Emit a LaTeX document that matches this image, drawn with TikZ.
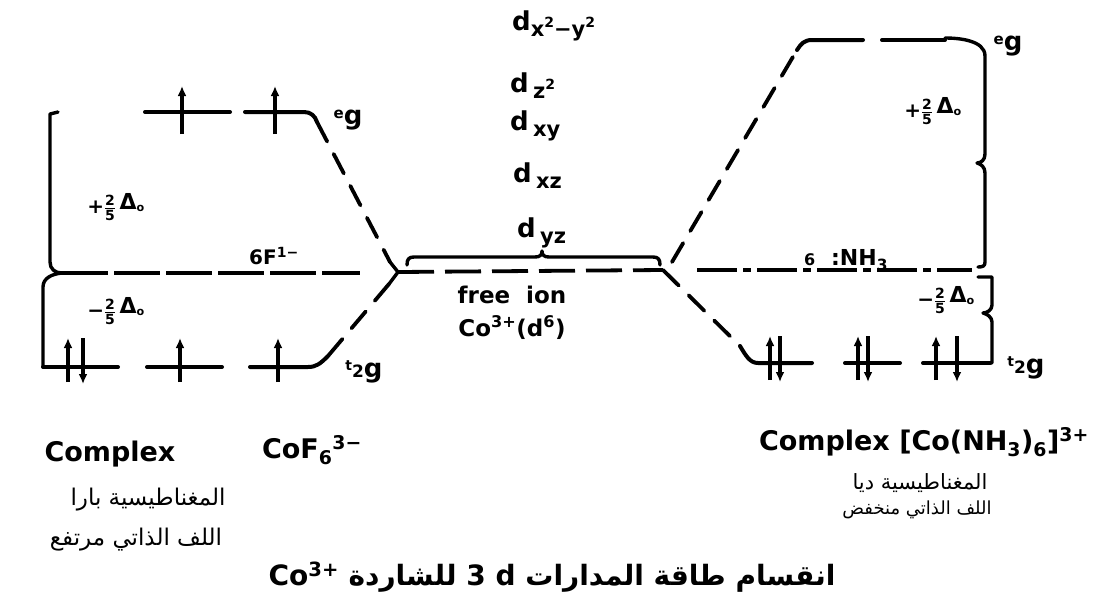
\documentclass[tikz,border=0pt]{standalone}
\usepackage{fontspec}
\usepackage{amsmath}
\setmainfont{DejaVu Sans}
\newfontfamily\arfont[Script=Arabic]{DejaVu Sans}
\TeXXeTstate=1
\usetikzlibrary{arrows.meta}
\newcommand\fsz[1]{\fontsize{#1}{#1}\selectfont}
\newcommand\twofifth{$\frac{\text{2}}{\text{5}}$}
\newcommand\Dzero{\raisebox{4pt}{\fsz{22}Δ\fsz{16}\textsubscript{o}}}
\newcommand\dsub[1]{\raisebox{-6pt}{\fsz{21}#1}}
\newcommand\dsq{\raisebox{9pt}{\fsz{14}2}}
\begin{document}
\begin{tikzpicture}[x=1pt,y=-1pt,
  lvl/.style={line width=4pt, line cap=round},
  conn/.style={line width=3.8pt, line cap=round, dash pattern=on 22pt off 14pt},
  fion/.style={line width=3.8pt, dash pattern=on 36pt off 11pt},
  bary/.style={line width=3.4pt, dash pattern=on 46pt off 6pt},
  baryR/.style={line width=3.4pt, dash pattern=on 40pt off 6pt on 8pt off 6pt},
  brc/.style={line width=3.4pt, line join=round, line cap=round},
  eup/.style={line width=3.4pt, -{Latex[length=10pt,width=9pt]}},
  lbl/.style={font=\bfseries\fsz{27}, inner sep=0pt},
  dl/.style={font=\bfseries\fsz{26}, inner sep=0pt, anchor=west},
  sm/.style={font=\bfseries\fsz{20}, inner sep=0pt},
  ar/.style={font=\arfont\fsz{23}, inner sep=0pt},
]
\fill[white] (0,0) rectangle (1106,598);
\useasboundingbox (0,0) rectangle (1106,598);

% ---------- named points ----------
\coordinate (Leg) at (317,122);
\coordinate (LJup) at (390,262);
\coordinate (Ljn) at (398,272);
\coordinate (LJdn) at (389,284);
\coordinate (Lt) at (328,356);
\coordinate (Fe) at (663,270);
\coordinate (Rjn) at (672,262);
\coordinate (Reg) at (797,50);
\coordinate (Rt) at (740,346);
\coordinate (Lb1) at (62,273);
\coordinate (Lb2) at (360,273);
\coordinate (Rb1) at (697,270);
\coordinate (Rb2) at (972,270);

% ---------- left complex (CoF6) ----------
\draw[lvl] (145,112) -- (230,112);
\draw[lvl] (245,112) -- (304,112) .. controls (311,112) and (315,116) .. (Leg);
\draw[lvl] (43,367) -- (118,367);
\draw[lvl] (147,367) -- (222,367);
\draw[lvl] (Lt) .. controls (320,364) and (316,367) .. (308,367) -- (250,367);
\draw[conn] (Leg) -- (LJup);
\draw[brc] (LJup) -- (Ljn) -- (LJdn);
\draw[conn] (LJdn) -- (Lt);
\draw[bary] (Lb1) -- (Lb2);
% electrons
\draw[eup] (182,134) -- (182,86);
\draw[eup] (275,134) -- (275,86);
\draw[eup] (68,382) -- (68,338);
\draw[eup] (83,338) -- (83,384);
\draw[eup] (180,382) -- (180,338);
\draw[eup] (278,382) -- (278,338);
% brace
\draw[brc] (58,112) -- (50,114) -- (50,262) .. controls (50,269) and (55,273) .. (62,273)
  .. controls (52,274) and (43,278) .. (43,287) -- (43,367);

% ---------- free ion ----------
\draw[fion] (Ljn) -- (Fe);
\draw[brc] (407,265) .. controls (407,259) and (409,257) .. (414,257) -- (535,257)
  .. controls (540,257) and (542,255) .. (542,251) .. controls (542,255) and (544,257) .. (549,257)
  -- (653,257) .. controls (658,257) and (660,259) .. (660,265);

% ---------- right complex (Co(NH3)6) ----------
\draw[conn] (Rjn) -- (Reg);
\draw[conn] (Fe) -- (Rt);
\draw[lvl] (Reg) .. controls (801,44) and (804,40) .. (812,40) -- (863,40);
\draw[lvl] (882,40) -- (945,40);
\draw[lvl] (Rt) .. controls (746,356) and (750,363) .. (758,363) -- (812,363);
\draw[lvl] (845,363) -- (900,363);
\draw[lvl] (923,363) -- (990,363);
\draw[baryR] (Rb1) -- (Rb2);
\draw[eup] (770,380) -- (770,336);
\draw[eup] (780,336) -- (780,382);
\draw[eup] (858,380) -- (858,336);
\draw[eup] (868,336) -- (868,382);
\draw[eup] (936,380) -- (936,336);
\draw[eup] (957,336) -- (957,382);
% braces
\draw[brc] (945,38) .. controls (958,38) and (985,40) .. (985,56) -- (985,154)
  .. controls (985,160) and (981,163) .. (977,163) .. controls (981,164) and (985,167) .. (985,173)
  -- (985,262) .. controls (985,266) and (983,267) .. (978,267);
\draw[brc] (978,277) -- (992,277) -- (992,305) .. controls (992,310) and (987,313) .. (983,313)
  .. controls (987,314) and (992,317) .. (992,322) -- (992,363) -- (990,363);

% ---------- labels ----------
\node[lbl] (egL) at (348,120) {\fsz{15}\raisebox{6pt}{e}\fsz{26}g};
\node[lbl] (t2gL) at (364,372) {\fsz{14}\raisebox{7pt}{t}\fsz{17}2\fsz{26}g};
\node[lbl] (egR) at (1008,46) {\fsz{15}\raisebox{6pt}{e}\fsz{26}g};
\node[lbl] (t2gR) at (1026,368) {\fsz{14}\raisebox{7pt}{t}\fsz{17}2\fsz{26}g};
\node[sm] (plusL) at (116,207) {+\twofifth\,\Dzero};
\node[sm] (minusL) at (116,311) {−\twofifth\,\Dzero};
\node[sm] (plusR) at (933,111) {+\twofifth\,\Dzero};
\node[sm] (minusR) at (946,300) {−\twofifth\,\Dzero};
\node[sm] (sixF) at (274,256) {6F\textsuperscript{1−}};
\node[sm] (sixN) at (846,260) {\fsz{16}6\quad\fsz{22}:NH\textsubscript{3}};

\node[dl] (dx2y2) at (512,26) {d\dsub{x\dsq−y\dsq}};
\node[dl] (dz2) at (510,86) {d\,\dsub{z\dsq}};
\node[dl] (dxy) at (510,126) {d\,\dsub{xy}};
\node[dl] (dxz) at (513,176) {d\,\dsub{xz}};
\node[dl] (dyz) at (517,233) {d\,\dsub{yz}};

\node[lbl, font=\bfseries\fsz{23}] (free) at (512,295) {free\ \ ion};
\node[lbl, font=\bfseries\fsz{23}] (coion) at (512,328) {Co\textsuperscript{3+}(d\textsuperscript{6})};

\node[lbl] (cpxL) at (110,454) {Complex};
\node[lbl] (cofL) at (312,450) {CoF\textsubscript{6}\textsuperscript{3−}};
\node[lbl] (cpxR) at (924,442) {Complex [Co(NH\textsubscript{3})\textsubscript{6}]\textsuperscript{3+}};

\node[ar] (hL1) at (148,500) {\beginR المغناطيسية بارا\endR};
\node[ar] (hL2) at (136,540) {\beginR اللف الذاتي مرتفع\endR};
\node[ar, font=\arfont\fsz{21}] (hR1) at (920,483) {\beginR المغناطيسية ديا\endR};
\node[ar, font=\arfont\fsz{18}] (hR2) at (917,510) {\beginR اللف الذاتي منخفض\endR};

\node[inner sep=0pt, font=\arfont\bfseries\fsz{28}] (title) at (552,577)
  {\beginR انقسام طاقة المدارات \beginL{\normalfont\bfseries 3 d}\endL{} للشاردة \beginL{\normalfont\bfseries Co\textsuperscript{3+}}\endL\endR};
\end{tikzpicture}
\end{document}
